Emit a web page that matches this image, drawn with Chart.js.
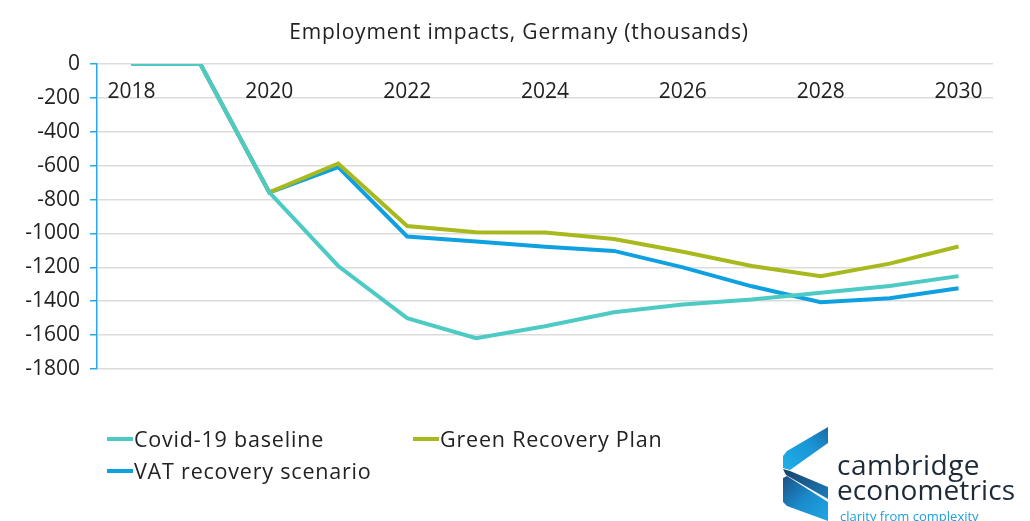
<!DOCTYPE html>
<html>
<head>
<meta charset="utf-8">
<script src="https://cdn.jsdelivr.net/npm/chart.js@4.4.0/dist/chart.umd.min.js"></script>
<style>
  html, body { margin: 0; padding: 0; background: #fff; }
  #wrap { position: relative; width: 1030px; height: 521px; overflow: hidden; font-family: "Open Sans", Lato, sans-serif; }
  #c { position: absolute; left: 0; top: 0; }
  #title { position: absolute; top: 17px; left: 0; width: 1038px; text-align: center; font-size: 21px; color: #222; letter-spacing: 0.8px; }
  .leg { position: absolute; font-size: 21.5px; color: #222; display: flex; align-items: center; white-space: nowrap; letter-spacing: 0.8px; }
  .sw { width: 26px; height: 4px; margin-right: 1px; }
  #logo { position: absolute; left: 778px; top: 424px; }
  .lt { position: absolute; left: 837px; color: #1e2a38; font-size: 28px; font-weight: 400; line-height: 1; }
  #tag { position: absolute; left: 840px; top: 507px; color: #1aa0dc; font-size: 13px; }
</style>
</head>
<body>
<div id="wrap">
  <canvas id="c" width="1030" height="521"></canvas>
  <div id="title">Employment impacts, Germany (thousands)</div>
  <div class="leg" style="left:107px; top:424px;"><span class="sw" style="background:#4ECAC5"></span>Covid-19 baseline</div>
  <div class="leg" style="left:413px; top:424px;"><span class="sw" style="background:#A8B91E"></span>Green Recovery Plan</div>
  <div class="leg" style="left:107px; top:456px;"><span class="sw" style="background:#0EA0E1"></span>VAT recovery scenario</div>
  <svg id="logo" width="56" height="100" viewBox="0 0 56 100">
    <defs>
      <linearGradient id="g1" x1="0" y1="1" x2="1" y2="0">
        <stop offset="0" stop-color="#20b0ea"/>
        <stop offset="0.6" stop-color="#1a94d4"/>
        <stop offset="1" stop-color="#1b6aa3"/>
      </linearGradient>
      <linearGradient id="g2" x1="0" y1="0" x2="1" y2="1">
        <stop offset="0" stop-color="#173f66"/>
        <stop offset="1" stop-color="#1b7fbf"/>
      </linearGradient>
      <linearGradient id="g3" x1="0" y1="0" x2="1" y2="1">
        <stop offset="0" stop-color="#1a5284"/>
        <stop offset="0.5" stop-color="#1b8acb"/>
        <stop offset="1" stop-color="#1fa9e4"/>
      </linearGradient>
    </defs>
    <polygon points="50,3 50,19 12,46 5,44 5,32 9,27" fill="url(#g1)"/>
    <polygon points="5,45 12,47 50,63 50,75 8,51" fill="url(#g2)"/>
    <polygon points="5,54 9,52 50,78 50,97 9,82 5,78" fill="url(#g3)"/>
  </svg>
  <div class="lt" style="top:450px; letter-spacing:0.5px;">cambridge</div>
  <div class="lt" style="top:475px; letter-spacing:0.1px;">econometrics</div>
  <div id="tag">clarity from complexity</div>
</div>
<script>
const years = ["2018","2019","2020","2021","2022","2023","2024","2025","2026","2027","2028","2029","2030"];
const covidBaseline = [0, 0, -758, -1192, -1500, -1618, -1548, -1465, -1420, -1390, -1350, -1310, -1252];
const greenRecovery = [0, 0, -758, -587, -956, -993, -995, -1033, -1108, -1192, -1253, -1178, -1077];
const vatRecovery  = [0, 0, -758, -608, -1018, -1048, -1078, -1103, -1200, -1312, -1406, -1383, -1324];
const yTicks = { min: -1800, max: 0, step: 200 };

const ctx = document.getElementById('c');
new Chart(ctx, {
  type: 'line',
  data: {
    labels: years,
    datasets: [
      { label: 'Covid-19 baseline', data: covidBaseline, borderColor: '#4ECAC5', borderWidth: 4, pointRadius: 0, tension: 0 },
      { label: 'Green Recovery Plan', data: greenRecovery, borderColor: '#A8B91E', borderWidth: 4, pointRadius: 0, tension: 0 },
      { label: 'VAT recovery scenario', data: vatRecovery, borderColor: '#0EA0E1', borderWidth: 4, pointRadius: 0, tension: 0 }
    ]
  },
  options: {
    responsive: false,
    animation: false,
    layout: { padding: { left: 0, right: 37, top: 64, bottom: 152 } },
    plugins: { legend: { display: false }, title: { display: false }, tooltip: { enabled: false } },
    scales: {
      x: {
        position: { y: 0 },
        offset: true,
        grid: { display: false, drawTicks: false },
        border: { display: false },
        ticks: {
          autoSkip: false, maxRotation: 0, padding: 15,
          color: '#222', font: { family: 'Open Sans', size: 21 },
          callback: function(v, i) { return i % 2 === 0 ? years[i] : ''; }
        }
      },
      y: {
        min: yTicks.min, max: yTicks.max,
        afterFit: function(s) { s.width = 97; },
        grid: { color: '#dcdcdc', lineWidth: 1.5, tickColor: '#29a8e6', tickLength: 7 },
        border: { display: true, color: '#29a8e6', width: 1.5 },
        ticks: {
          stepSize: yTicks.step, padding: 10, color: '#222', font: { family: 'Open Sans', size: 21 },
          callback: function(v) { return String(v); }
        }
      }
    }
  }
});
</script>
</body>
</html>
